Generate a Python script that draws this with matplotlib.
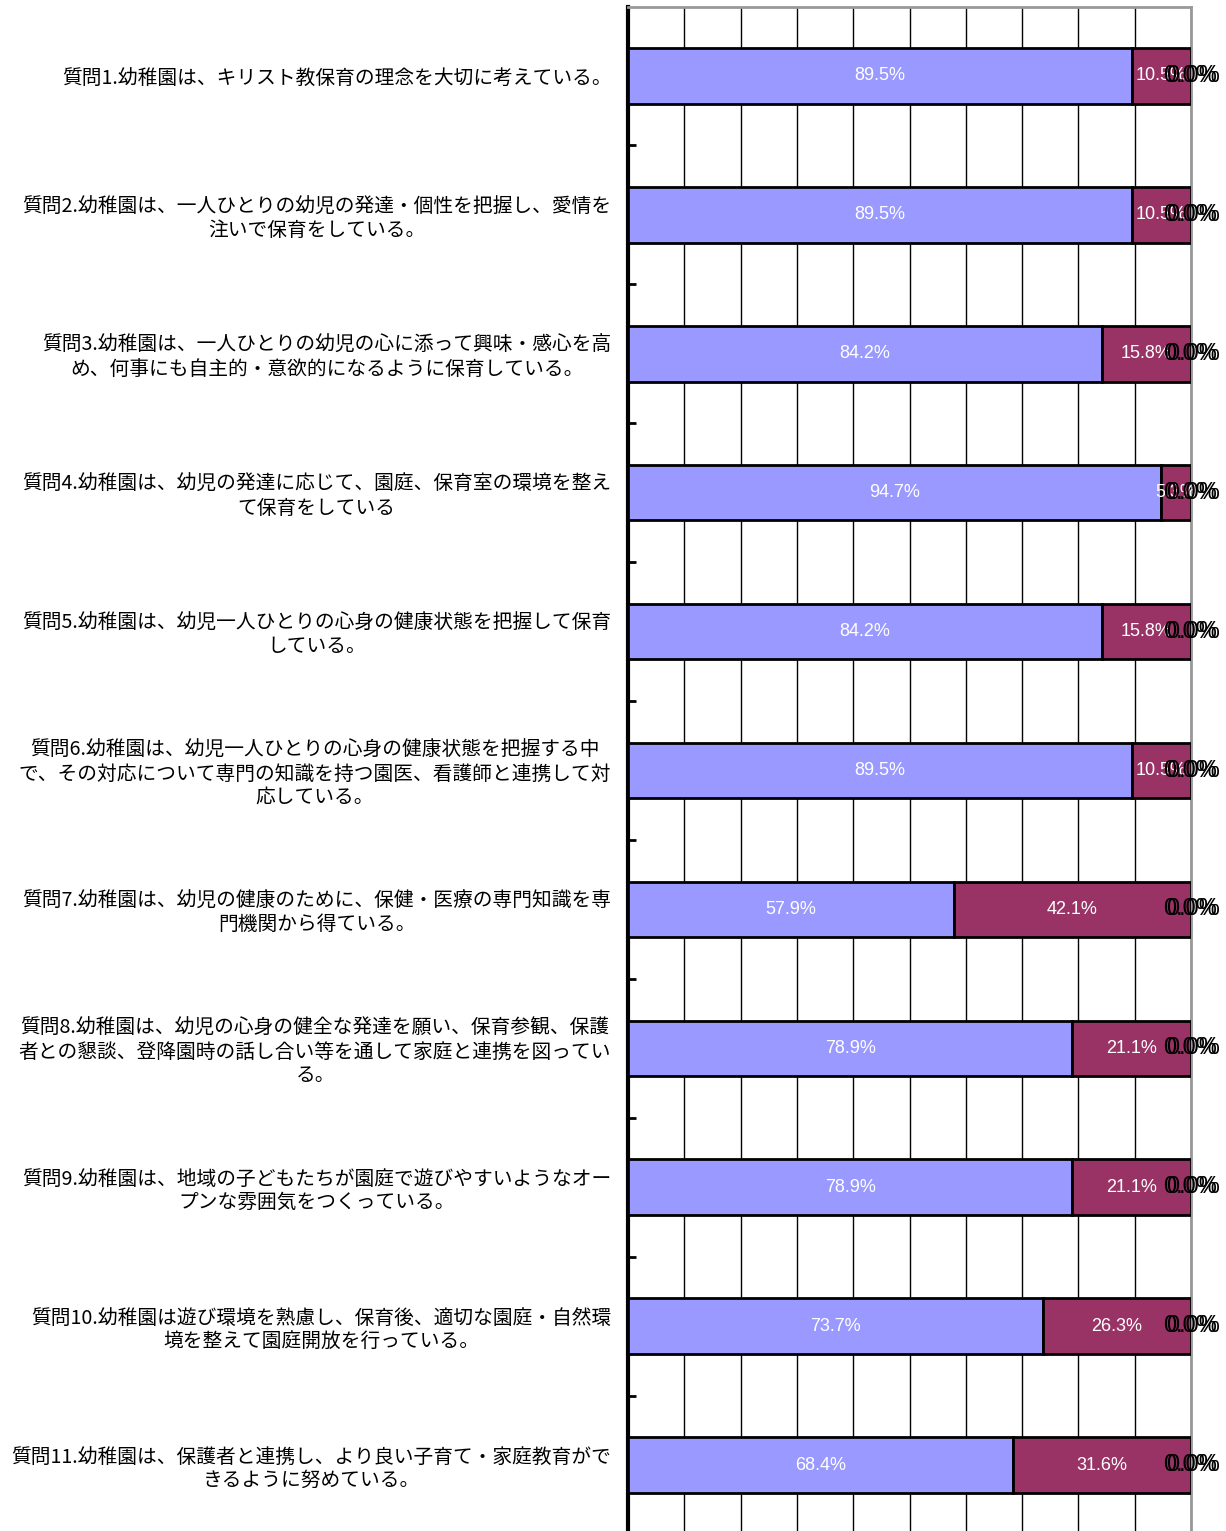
import matplotlib
matplotlib.use('Agg')
import matplotlib.pyplot as plt
import numpy as np

# ---- data ----
QUESTIONS = [
    "質問1.幼稚園は、キリスト教保育の理念を大切に考えている。",
    "質問2.幼稚園は、一人ひとりの幼児の発達・個性を把握し、愛情を\n注いで保育をしている。",
    "質問3.幼稚園は、一人ひとりの幼児の心に添って興味・感心を高\nめ、何事にも自主的・意欲的になるように保育している。",
    "質問4.幼稚園は、幼児の発達に応じて、園庭、保育室の環境を整え\nて保育をしている",
    "質問5.幼稚園は、幼児一人ひとりの心身の健康状態を把握して保育\nしている。",
    "質問6.幼稚園は、幼児一人ひとりの心身の健康状態を把握する中\nで、その対応について専門の知識を持つ園医、看護師と連携して対\n応している。",
    "質問7.幼稚園は、幼児の健康のために、保健・医療の専門知識を専\n門機関から得ている。",
    "質問8.幼稚園は、幼児の心身の健全な発達を願い、保育参観、保護\n者との懇談、登降園時の話し合い等を通して家庭と連携を図ってい\nる。",
    "質問9.幼稚園は、地域の子どもたちが園庭で遊びやすいようなオー\nプンな雰囲気をつくっている。",
    "質問10.幼稚園は遊び環境を熟慮し、保育後、適切な園庭・自然環\n境を整えて園庭開放を行っている。",
    "質問11.幼稚園は、保護者と連携し、より良い子育て・家庭教育がで\nきるように努めている。",
]
S1 = [89.5, 89.5, 84.2, 94.7, 84.2, 89.5, 57.9, 78.9, 78.9, 73.7, 68.4]
S2 = [10.5, 10.5, 15.8, 5.3, 15.8, 10.5, 42.1, 21.1, 21.1, 26.3, 31.6]
S3 = [0.0] * 11
S4 = [0.0] * 11

plt.rcParams['font.family'] = ['Noto Sans CJK JP', 'DejaVu Sans']
NUMFONT = ['Liberation Sans', 'DejaVu Sans']

W, H = 1226, 1531
fig = plt.figure(figsize=(W / 100, H / 100), dpi=100)
top_px, bot_px = 6.5, 1534.5
ax = fig.add_axes([628 / W, 1 - bot_px / H, (1191 - 628) / W, (bot_px - top_px) / H])

y = np.arange(len(QUESTIONS))
v1 = np.array(S1) / 100
v2 = np.array(S2) / 100
v3 = np.array(S3) / 100
v4 = np.array(S4) / 100

ax.barh(y, v1, height=0.4, color='#9999FF', edgecolor='black', linewidth=2, zorder=3)
ax.barh(y, v2, left=v1, height=0.4, color='#993366', edgecolor='black', linewidth=2, zorder=3)

for i in range(len(y)):
    ax.text(v1[i] / 2, y[i], '{:.1f}%'.format(S1[i]), ha='center', va='center',
            color='white', fontsize=13, family=NUMFONT, zorder=5)
    ax.text(v1[i] + v2[i] / 2, y[i], '{:.1f}%'.format(S2[i]), ha='center', va='center',
            color='white', fontsize=13, family=NUMFONT, zorder=5)
    # the two zero series sit on top of each other at 100%
    base = v1[i] + v2[i]
    ax.annotate('{:.1f}%'.format(S3[i]), (base + v3[i], y[i]), xytext=(-1, 0),
                textcoords='offset points', ha='center', va='center',
                color='black', fontsize=17, family=NUMFONT, zorder=6, annotation_clip=False)
    ax.annotate('{:.1f}%'.format(S4[i]), (base + v3[i] + v4[i], y[i]), xytext=(1.5, 0),
                textcoords='offset points', ha='center', va='center',
                color='black', fontsize=17, family=NUMFONT, zorder=6, annotation_clip=False)

ax.set_xlim(0, 1)
ax.set_ylim(len(y) - 0.5, -0.5)
ax.set_xticks(np.arange(0, 1.01, 0.1))
ax.xaxis.grid(True, color='black', linewidth=1, zorder=0)
ax.tick_params(axis='x', length=0, labelbottom=False)

ax.set_yticks(y)
ax.set_yticklabels(QUESTIONS, fontsize=14.2, multialignment='center', linespacing=1.15)
ax.set_yticks(np.arange(0.5, len(y) - 1, 1), minor=True)
ax.tick_params(axis='y', which='major', length=0, pad=12)
ax.tick_params(axis='y', which='minor', direction='in', length=6, width=2)

ax.spines['left'].set_linewidth(3)
ax.spines['left'].set_color('black')
for side in ['top', 'right']:
    ax.spines[side].set_color('#999999')
    ax.spines[side].set_linewidth(2)
ax.spines['bottom'].set_visible(False)

fig.savefig('out.png', dpi=100)
